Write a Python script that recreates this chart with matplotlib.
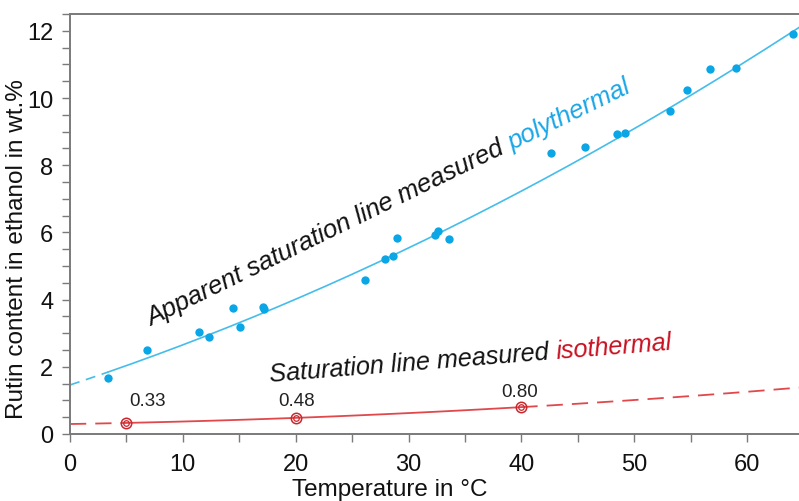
import numpy as np
import matplotlib
matplotlib.use("Agg")
import matplotlib.pyplot as plt
from matplotlib.ticker import MultipleLocator

# ---- data ----
temp_poly = [3.4, 6.85, 11.47, 12.3, 14.45, 15.1, 17.1, 17.15, 26.1, 27.9, 28.6, 28.96,
             32.3, 32.6, 33.6, 42.6, 45.6, 48.5, 49.2, 53.2, 54.7, 56.7, 59.0, 64.1]
rutin_poly = [1.67, 2.51, 3.03, 2.89, 3.75, 3.18, 3.78, 3.72, 4.59, 5.21, 5.29, 5.83,
              5.91, 6.05, 5.81, 8.35, 8.54, 8.94, 8.97, 9.62, 10.25, 10.87, 10.89, 11.9]
poly_fit_coef = [0.000831, 0.111, 1.46]   # quadratic fit of the polythermal line
temp_iso = [5, 20, 40]
rutin_iso = [0.33, 0.48, 0.80]
iso_labels = ["0.33", "0.48", "0.80"]
x_ticks = [0, 10, 20, 30, 40, 50, 60]
y_ticks = [0, 2, 4, 6, 8, 10, 12]

plt.rcParams['font.family'] = ['Liberation Sans', 'DejaVu Sans']

W, H = 799, 502
fig = plt.figure(figsize=(W / 100, H / 100), dpi=100)
ax_left = 70 / W
ax_bottom = 1 - 435 / H
ax_top = 1 - 15 / H
ax = fig.add_axes([ax_left, ax_bottom, 1.0 - ax_left, ax_top - ax_bottom])

xmax = 64.6
ax.set_xlim(0, xmax)
ax.set_ylim(0, 12.5)

blue_pt = '#0AA6E6'
blue_ln = '#45BDEB'
red_pt = '#C8282E'
red_ln = '#E0484C'

# polythermal fit
xs_ext = np.linspace(0, min(temp_poly), 20)
xs_in = np.linspace(min(temp_poly), xmax, 200)
ax.plot(xs_ext, np.polyval(poly_fit_coef, xs_ext), color=blue_ln, lw=1.2, ls=(0, (6, 4)))
ax.plot(xs_in, np.polyval(poly_fit_coef, xs_in), color=blue_ln, lw=1.2)
ax.plot(temp_poly, rutin_poly, 'o', color=blue_pt, ms=6, mec='none', zorder=5)

# isothermal fit
ic = np.polyfit(temp_iso, rutin_iso, 2)
xi0 = np.linspace(0, min(temp_iso), 20)
xi1 = np.linspace(min(temp_iso), max(temp_iso), 100)
xi2 = np.linspace(max(temp_iso), xmax, 100)
ax.plot(xi0, np.polyval(ic, xi0), color=red_ln, lw=1.3, ls=(0, (9, 5)))
ax.plot(xi1, np.polyval(ic, xi1), color=red_ln, lw=1.3)
ax.plot(xi2, np.polyval(ic, xi2), color=red_ln, lw=1.3, ls=(0, (9, 5)))
ax.plot(temp_iso, rutin_iso, 'o', mfc='none', mec=red_pt, ms=7.5, mew=1.1, zorder=5)
ax.plot(temp_iso, rutin_iso, 'o', mfc='none', mec=red_pt, ms=4, mew=0.9, zorder=5)
label_dx = [1.9, 0.1, -0.2]
label_dy = [0.52, 0.37, 0.34]
for tx, ty, lab, dx, dy in zip(temp_iso, rutin_iso, iso_labels, label_dx, label_dy):
    ax.text(tx + dx, ty + dy, lab, fontsize=13.5, ha='center', va='baseline', color='#222222')

# ticks / spines
ax.set_xticks(x_ticks)
ax.set_yticks(y_ticks)
ax.xaxis.set_minor_locator(MultipleLocator(5))
ax.yaxis.set_minor_locator(MultipleLocator(0.5))
spine_c = '#7a7a7a'
for s in ['left', 'bottom', 'top']:
    ax.spines[s].set_color(spine_c)
    ax.spines[s].set_linewidth(1.4)
ax.spines['right'].set_visible(False)
ax.tick_params(which='both', direction='out', length=6, width=1.0, color=spine_c,
               labelsize=17, labelcolor='#111111')
ax.tick_params(axis='y', pad=6)
ax.tick_params(axis='x', pad=8)

fig.text(389.5 / W, 1 - 496 / H, 'Temperature in °C', fontsize=17.5, ha='center',
         va='baseline', color='#111111')
fig.text(17 / W, 1 - 249 / H, 'Rutin content in ethanol in wt.%', fontsize=17.5,
         rotation=90, ha='center', va='center', color='#111111')

# two-colour rotated annotations
fig.canvas.draw()
renderer = fig.canvas.get_renderer()


def width_px(s, **kw):
    t = fig.text(0, 0, s, **kw)
    w = t.get_window_extent(renderer).width
    t.remove()
    return w


def two_colour(x0, y0, part1, part2, color2, angle, size):
    kw = dict(fontsize=size, style='italic')
    ax.text(x0, y0, part1, rotation=angle, rotation_mode='anchor', ha='left',
            va='baseline', color='#111111', **kw)
    sp = width_px('a a', **kw) - width_px('aa', **kw)
    w = width_px(part1, **kw) + sp
    px, py = ax.transData.transform((x0, y0))
    a = np.deg2rad(angle)
    px2, py2 = px + w * np.cos(a), py + w * np.sin(a)
    x2, y2 = ax.transData.inverted().transform((px2, py2))
    ax.text(x2, y2, part2, rotation=angle, rotation_mode='anchor', ha='left',
            va='baseline', color=color2, **kw)


two_colour(7.2, 3.22, 'Apparent saturation line measured', 'polythermal', '#1AA6E6', 26.0, 18.5)
two_colour(17.73, 1.59, 'Saturation line measured', 'isothermal', '#C81020', 4.6, 18.2)

fig.savefig('out.png', dpi=100)
